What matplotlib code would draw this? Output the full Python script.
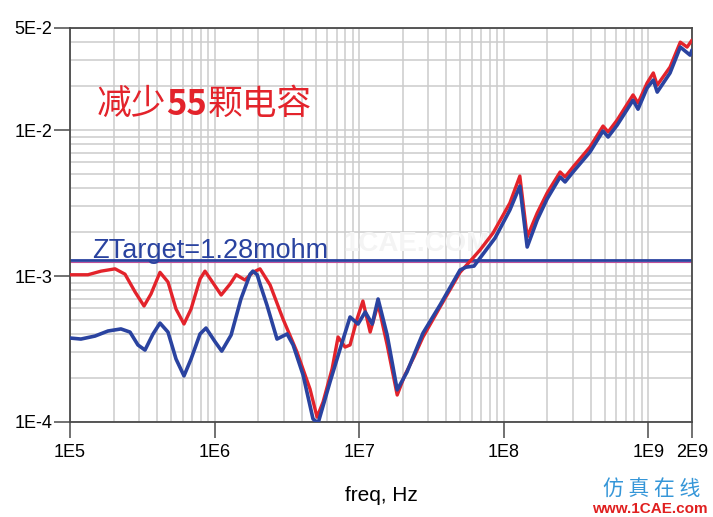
import matplotlib
matplotlib.use("Agg")
import matplotlib.pyplot as plt
from matplotlib.ticker import FixedLocator, LogLocator, NullFormatter

plt.rcParams['font.family'] = ['Liberation Sans', 'Noto Sans CJK SC', 'DejaVu Sans']

# impedance curves (Hz, ohm)
red_freq = [1.0e5, 1.33e5, 1.64e5, 2.05e5, 2.40e5, 2.82e5, 3.25e5, 3.63e5, 4.19e5, 4.76e5,
            5.41e5, 6.14e5, 6.87e5, 7.93e5, 8.58e5, 9.45e5, 1.11e6, 1.28e6, 1.41e6, 1.62e6,
            1.84e6, 2.06e6, 2.42e6, 2.97e6, 3.71e6, 4.57e6, 5.11e6, 5.62e6, 6.49e6, 7.14e6,
            7.98e6, 8.64e6, 9.66e6, 1.06e7, 1.19e7, 1.35e7, 1.56e7, 1.83e7, 2.07e7, 2.39e7,
            2.76e7, 3.62e7, 4.98e7, 6.12e7, 6.85e7, 8.42e7, 1.10e8, 1.29e8, 1.45e8, 1.70e8,
            1.99e8, 2.45e8, 2.65e8, 3.01e8, 3.94e8, 4.85e8, 5.26e8, 6.07e8, 7.82e8, 8.47e8,
            9.78e8, 1.08e9, 1.15e9, 1.41e9, 1.66e9, 1.85e9, 2.0e9]
red_z = [1.02e-3, 1.02e-3, 1.08e-3, 1.12e-3, 1.03e-3, 7.77e-4, 6.23e-4, 7.53e-4, 1.06e-3, 9.1e-4,
         5.94e-4, 4.69e-4, 5.94e-4, 9.54e-4, 1.08e-3, 9.39e-4, 7.41e-4, 8.82e-4, 1.02e-3, 9.39e-4,
         1.06e-3, 1.12e-3, 8.68e-4, 5.08e-4, 3.02e-4, 1.68e-4, 1.08e-4, 1.37e-4, 2.31e-4, 3.82e-4,
         3.26e-4, 3.37e-4, 5.08e-4, 6.74e-4, 4.13e-4, 6.43e-4, 3.37e-4, 1.53e-4, 2.10e-4, 2.79e-4,
         3.82e-4, 6.13e-4, 1.06e-3, 1.33e-3, 1.51e-3, 1.97e-3, 3.16e-3, 4.84e-3, 1.85e-3, 2.70e-3,
         3.70e-3, 5.16e-3, 4.77e-3, 5.58e-3, 7.65e-3, 1.065e-2, 9.7e-3, 1.17e-2, 1.74e-2, 1.53e-2,
         2.10e-2, 2.46e-2, 2.03e-2, 2.70e-2, 4.0e-2, 3.70e-2, 4.13e-2]

blue_freq = [1.0e5, 1.19e5, 1.49e5, 1.83e5, 2.25e5, 2.60e5, 2.95e5, 3.30e5, 3.75e5, 4.19e5,
             4.76e5, 5.41e5, 6.14e5, 6.87e5, 7.93e5, 8.72e5, 1.01e6, 1.12e6, 1.30e6, 1.52e6,
             1.76e6, 1.84e6, 1.97e6, 2.06e6, 2.30e6, 2.70e6, 3.17e6, 3.49e6, 4.09e6, 4.79e6,
             5.19e6, 6.28e6, 7.37e6, 8.64e6, 9.81e6, 1.10e7, 1.23e7, 1.35e7, 1.56e7, 1.83e7,
             2.14e7, 2.39e7, 2.76e7, 3.62e7, 4.98e7, 5.48e7, 6.22e7, 6.85e7, 8.69e7, 1.10e8,
             1.29e8, 1.45e8, 1.70e8, 1.99e8, 2.45e8, 2.65e8, 3.01e8, 3.94e8, 4.85e8, 5.26e8,
             6.07e8, 7.82e8, 8.47e8, 9.78e8, 1.08e9, 1.15e9, 1.41e9, 1.66e9, 1.94e9, 2.0e9]
blue_z = [3.76e-4, 3.70e-4, 3.88e-4, 4.20e-4, 4.34e-4, 4.13e-4, 3.37e-4, 3.11e-4, 4.01e-4, 4.76e-4,
          4.13e-4, 2.70e-4, 2.07e-4, 2.70e-4, 4.01e-4, 4.40e-4, 3.53e-4, 3.06e-4, 3.94e-4, 6.96e-4,
          1.03e-3, 1.08e-3, 1.02e-3, 8.82e-4, 6.33e-4, 3.70e-4, 4.01e-4, 3.37e-4, 2.10e-4, 1.05e-4,
          0.98e-4, 1.88e-4, 3.16e-4, 5.24e-4, 4.69e-4, 5.67e-4, 4.69e-4, 6.96e-4, 3.94e-4, 1.66e-4,
          2.20e-4, 2.88e-4, 4.07e-4, 6.33e-4, 1.10e-3, 1.15e-3, 1.17e-3, 1.33e-3, 1.82e-3, 2.83e-3,
          4.13e-3, 1.58e-3, 2.42e-3, 3.37e-3, 4.77e-3, 4.41e-3, 5.16e-3, 7.07e-3, 9.85e-3, 8.96e-3,
          1.08e-2, 1.60e-2, 1.39e-2, 1.94e-2, 2.20e-2, 1.82e-2, 2.46e-2, 3.70e-2, 3.26e-2, 3.53e-2]

ztarget = 1.28e-3
ztarget_red = 1.24e-3

x_ticks = [1e5, 1e6, 1e7, 1e8, 1e9, 2e9]
x_labels = ['1E5', '1E6', '1E7', '1E8', '1E9', '2E9']
y_ticks = [1e-4, 1e-3, 1e-2, 5e-2]
y_labels = ['1E-4', '1E-3', '1E-2', '5E-2']

RED = '#e3232b'
BLUE = '#2a43a0'
GRID = '#cccccc'
AXC = '#4a4a4a'

fig = plt.figure(figsize=(7.13, 5.17), dpi=100)
ax = fig.add_axes([70 / 713, 95 / 517, 622 / 713, 394 / 517])
ax.set_xscale('log')
ax.set_yscale('log')
ax.set_xlim(1e5, 2e9)
ax.set_ylim(1e-4, 5e-2)

ax.xaxis.set_major_locator(FixedLocator(x_ticks))
ax.set_xticklabels(x_labels)
ax.yaxis.set_major_locator(FixedLocator(y_ticks))
ax.set_yticklabels(y_labels)
ax.xaxis.set_minor_locator(LogLocator(base=10, subs=range(1, 10), numticks=20))
ax.yaxis.set_minor_locator(LogLocator(base=10, subs=range(1, 10), numticks=20))
ax.xaxis.set_minor_formatter(NullFormatter())
ax.yaxis.set_minor_formatter(NullFormatter())
ax.tick_params(which='minor', length=0)
ax.tick_params(which='major', length=11.5, width=1.1, color=AXC, labelsize=13)
ax.tick_params(axis='x', which='major', pad=4)
ax.tick_params(axis='y', which='major', pad=1)
ax.grid(True, which='both', color=GRID, linewidth=1.1)
ax.set_axisbelow(True)
for s in ax.spines.values():
    s.set_color(AXC)
    s.set_linewidth(1.3)

ax.axhline(ztarget_red, color='#c0509a', linewidth=0.8, zorder=2)
ax.axhline(ztarget, color=BLUE, linewidth=2.0, zorder=2)

ax.plot(red_freq, red_z, color=RED, linewidth=2.4, zorder=3,
        solid_joinstyle='round', solid_capstyle='round')
ax.plot(blue_freq, blue_z, color=BLUE, linewidth=2.6, zorder=4,
        solid_joinstyle='round', solid_capstyle='round')

ax.set_xlabel('freq, Hz', fontsize=15, labelpad=18)

# very faint site watermark behind the target label
ax.text(0.44, 0.435, '1CAE.COM', transform=ax.transAxes, fontsize=20, color='#f4f4f4',
        fontweight='bold', zorder=1)

ax.annotate('ZTarget=1.28mohm', xy=(1.42e5, ztarget), xytext=(0, 1.5),
            textcoords='offset points', fontsize=19.5, color=BLUE, va='baseline', zorder=5)

# red note, digits in bold
t1 = fig.text(97 / 713, 1 - 114 / 517, '减少', fontsize=25, color=RED,
              family=['Noto Sans CJK SC'], va='baseline')
t2 = ax.annotate('55', xy=(1, 0), xycoords=t1, xytext=(0, 0), textcoords='offset points',
                 fontsize=25, color=RED, fontweight='bold', family=['Noto Sans CJK SC'],
                 va='bottom', ha='left')
ax.annotate('颗电容', xy=(1, 0), xycoords=t2, xytext=(0, 0), textcoords='offset points',
            fontsize=25, color=RED, family=['Noto Sans CJK SC'], va='bottom', ha='left')

# bottom right site logo
fig.text(652 / 713, 1 - 490 / 517, '仿 真 在 线', fontsize=15, color='#3596d8',
         family=['Noto Sans CJK SC'], ha='center', va='center')
fig.text(650 / 713, 1 - 509 / 517, 'www.1CAE.com', fontsize=11, color='#e02020',
         fontweight='bold', ha='center', va='center')

fig.savefig('out.png', dpi=100)
